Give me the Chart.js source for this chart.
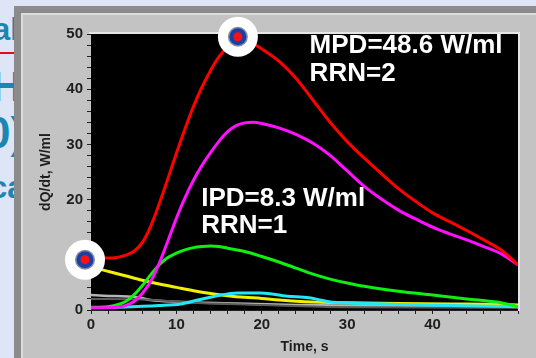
<!DOCTYPE html>
<html lang="en">
<head>
<meta charset="UTF-8">
<title>dQ/dt curves</title>
<style>
    body {
        margin: 0;
        width: 536px;
        height: 358px;
        overflow: hidden;
        position: relative;
        background-color: #dde5f6;
        font-family: 'Liberation Sans', Arial, sans-serif;
    }

    .side {
        position: absolute;
        color: #1b86b2;
        font-weight: bold;
        white-space: nowrap;
    }

    .underline {
        position: absolute;
        left: 0;
        top: 52px;
        width: 20px;
        height: 2px;
        background-color: #e01010;
    }

    .frame {
        position: absolute;
        left: 14px;
        top: 6px;
        right: -10px;
        bottom: -10px;
        background-color: #c3c3c3;
        border-left: 7px solid #8b8b8b;
        border-top: 7px solid #8b8b8b;
        box-shadow: inset 2px 2px 0 #dcdcdc;
    }

    canvas {
        position: absolute;
        left: 0;
        top: 0;
    }
</style>
</head>
<body>
<div class="side" style="left:-7px; top:12px; font-size:31px;">al</div>
<div class="underline"></div>
<div class="side" style="left:-9px; top:62px; font-size:43px;">H</div>
<div class="side" style="left:-14px; top:108px; font-size:44px;">0)</div>
<div class="side" style="left:-10px; top:170px; font-size:31px;">ca</div>
<div class="frame"></div>
<canvas id="chart" width="536" height="358"></canvas>

<script src="https://cdn.jsdelivr.net/npm/chart.js"></script>
<script>
    // time, s / dQ/dt, W/ml
    const redX = [0, 2, 3, 4, 5, 6, 7, 8, 9, 10, 11, 12, 13, 14, 15, 16, 17, 17.7, 19, 20, 22, 24, 26, 28, 30, 32, 34, 36, 38, 40, 42, 44, 46, 48, 50];
    const redY = [9.4, 9.4, 9.5, 9.9, 10.6, 12.2, 15.2, 19.3, 23.8, 28.4, 32.8, 36.9, 40.4, 43.4, 45.9, 47.6, 48.4, 48.6, 48.2, 47.3, 45.1, 42, 38, 34, 30.5, 27.5, 24.7, 22, 19.7, 17.6, 16, 14.4, 12.7, 10.9, 8.2];

    const magentaX = [0, 3, 4, 5, 6, 7, 8, 9, 10, 11, 12, 13, 14, 15, 16, 17, 18, 19, 20, 22, 24, 26, 28, 30, 32, 34, 36, 38, 40, 42, 44, 46, 48, 50];
    const magentaY = [0.4, 0.5, 0.8, 1.5, 3, 5.2, 8.5, 12.5, 16.6, 20.3, 23.5, 26.2, 28.5, 30.6, 32.3, 33.4, 33.9, 34, 33.8, 33, 31.8, 30.2, 28, 25.2, 22.4, 20.1, 18.1, 16.5, 15, 13.8, 12.7, 11.5, 10.2, 8.2];

    const greenX = [0, 2, 3, 4, 5, 6, 7, 8, 9, 10, 11, 12, 13, 14, 15, 16, 18, 20, 22, 24, 26, 28, 30, 32, 36, 40, 44, 48, 50];
    const greenY = [0.5, 0.6, 0.9, 1.5, 2.7, 4.4, 6.4, 8.2, 9.5, 10.3, 10.9, 11.3, 11.5, 11.6, 11.5, 11.2, 10.6, 9.7, 8.7, 7.6, 6.5, 5.6, 4.9, 4.3, 3.4, 2.7, 2.0, 1.3, 0.6];

    const yellowX = [0, 2, 4, 6, 8, 10, 12, 14, 16, 18, 20, 22, 25, 30, 36, 42, 48, 50];
    const yellowY = [7.8, 7.0, 6.2, 5.4, 4.7, 4.1, 3.5, 3.0, 2.6, 2.3, 2.1, 1.8, 1.5, 1.3, 1.2, 1.1, 1.0, 0.9];

    const cyanX = [0, 3, 8, 10.5, 12.5, 14.5, 17.2, 19.9, 23, 25.5, 28.3, 32, 36, 42, 50];
    const cyanY = [0.4, 0.5, 0.8, 1.1, 1.8, 2.5, 3.1, 3.1, 2.5, 2.2, 1.4, 1.2, 1.0, 0.8, 0.6];

    const grayX = [0, 1.5, 5.5, 7, 10, 17, 24, 35, 50];
    const grayY = [2.7, 2.6, 2.3, 1.8, 1.5, 1.2, 0.9, 0.7, 0.6];

    const darkX = [0, 6, 12, 20, 30, 50];
    const darkY = [2.0, 1.9, 1.3, 0.9, 0.5, 0.4];

    // peak markers (MPD and IPD)
    const peakX = [17.2, -0.7];
    const peakY = [49.5, 9.1];

    // text labels, anchored to data coordinates (left edge, baseline)
    const noteText = ['MPD=48.6 W/ml', 'RRN=2', 'IPD=8.3 W/ml', 'RRN=1'];
    const noteX = [25.6, 25.6, 12.9, 12.9];
    const noteY = [46.6, 41.4, 18.8, 14.0];

    const xTicks = [0, 10, 20, 30, 40];
    const yTicks = [0, 10, 20, 30, 40, 50];

    function curve(xs, ys, color, width) {
        return {
            data: xs.map((x, i) => ({ x: x, y: ys[i] })),
            borderColor: color,
            borderWidth: width,
            pointRadius: 0,
            cubicInterpolationMode: 'monotone',
            fill: false
        };
    }

    // black plot area + light frame edges, markers and text labels
    const plotPlugin = {
        id: 'plot',
        beforeDatasetsDraw(chart) {
            const { ctx, chartArea: a } = chart;
            ctx.save();
            ctx.fillStyle = '#000';
            ctx.fillRect(a.left, a.top, a.right - a.left, a.bottom - a.top);
            ctx.strokeStyle = '#e6e6e6';
            ctx.lineWidth = 2;
            ctx.beginPath();
            ctx.moveTo(a.left - 2, a.top - 1);
            ctx.lineTo(a.right + 1, a.top - 1);
            ctx.lineTo(a.right + 1, a.bottom + 1);
            ctx.stroke();
            ctx.restore();
        },
        afterDraw(chart) {
            const { ctx, scales } = chart;
            ctx.save();
            // target markers
            peakX.forEach((v, i) => {
                const px = scales.x.getPixelForValue(v);
                const py = scales.y.getPixelForValue(peakY[i]);
                const rings = [[20, '#ffffff'], [10, '#8a8c98'], [8.5, '#1840a8'], [4.5, '#ff1010']];
                rings.forEach(([r, c]) => {
                    ctx.fillStyle = c;
                    ctx.beginPath();
                    ctx.arc(px, py, r, 0, Math.PI * 2);
                    ctx.fill();
                });
            });
            ctx.fillStyle = '#ffffff';
            ctx.font = 'bold 26px "Liberation Sans", Arial, sans-serif';
            ctx.textBaseline = 'alphabetic';
            noteText.forEach((t, i) => {
                ctx.fillText(t, scales.x.getPixelForValue(noteX[i]), scales.y.getPixelForValue(noteY[i]));
            });
            ctx.restore();
        }
    };

    const tickFont = { family: "'Liberation Sans', Arial, sans-serif", size: 15, weight: 'bold' };

    new Chart(document.getElementById('chart'), {
        type: 'line',
        data: {
            datasets: [
                curve(redX, redY, '#ff0000', 3),
                curve(magentaX, magentaY, '#ff10ff', 3),
                curve(greenX, greenY, '#10f010', 3),
                curve(cyanX, cyanY, '#20e8f8', 3),
                curve(yellowX, yellowY, '#f0f000', 3),
                curve(darkX, darkY, '#5a5a5a', 2),
                curve(grayX, grayY, '#b4b4b4', 2.5)
            ]
        },
        options: {
            responsive: false,
            animation: false,
            events: [],
            layout: { padding: { left: 0, top: 34, right: 18, bottom: 0 } },
            plugins: {
                legend: { display: false },
                tooltip: { enabled: false }
            },
            scales: {
                x: {
                    type: 'linear',
                    min: 0,
                    max: 50,
                    afterFit(scale) { scale.height = 48; },
                    border: { display: true, color: '#202020', width: 1 },
                    grid: { drawOnChartArea: false, tickLength: 4, tickColor: '#202020' },
                    ticks: {
                        stepSize: 2,
                        padding: 2,
                        maxRotation: 0,
                        autoSkip: false,
                        color: '#1e1e1e',
                        font: tickFont,
                        callback: v => xTicks.includes(v) ? String(v) : ''
                    },
                    title: {
                        display: true,
                        text: 'Time, s',
                        color: '#1e1e1e',
                        font: { family: "'Liberation Sans', Arial, sans-serif", size: 14, weight: 'bold' },
                        padding: { top: 0, bottom: 2 }
                    }
                },
                y: {
                    min: 0,
                    max: 50,
                    afterFit(scale) { scale.width = 91; },
                    border: { display: true, color: '#202020', width: 1 },
                    grid: { drawOnChartArea: false, tickLength: 4, tickColor: '#202020' },
                    ticks: {
                        stepSize: 2,
                        padding: 4,
                        autoSkip: false,
                        color: '#1e1e1e',
                        font: tickFont,
                        callback: v => yTicks.includes(v) ? String(v) : ''
                    },
                    title: {
                        display: true,
                        text: 'dQ/dt, W/ml',
                        color: '#1e1e1e',
                        font: { family: "'Liberation Sans', Arial, sans-serif", size: 14, weight: 'bold' },
                        padding: { top: 38, bottom: 0 }
                    }
                }
            }
        },
        plugins: [plotPlugin]
    });
</script>
</body>
</html>
